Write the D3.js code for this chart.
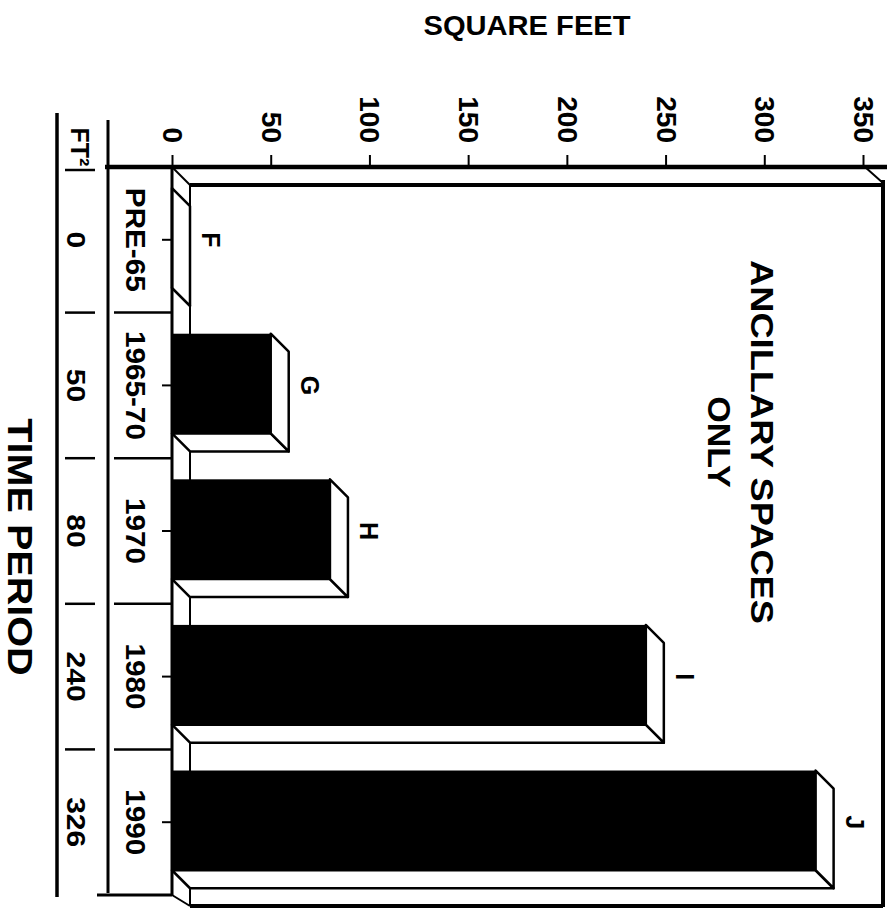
<!DOCTYPE html>
<html lang="en">
<head>
  <meta charset="UTF-8" />
  <title>Ancillary Spaces Only</title>
  <style>
    body {
      margin: 0;
      background: #fff;
    }
    svg {
      display: block;
      font-family: "Liberation Sans", Arial, sans-serif;
      font-weight: bold;
    }
  </style>
</head>
<body>

  <div id="chart"></div>

  <script src="https://d3js.org/d3.v7.min.js"></script>

  <script>
    // Data
    const categories = ["PRE-65", "1965-70", "1970", "1980", "1990"];
    const values = [0, 50, 80, 240, 326];
    const barLetters = ["F", "G", "H", "I", "J"];
    const valueTicks = [0, 50, 100, 150, 200, 250, 300, 350];

    const W = 896, H = 914;
    const depth = 18;  // 3D offset of the bars

    const svg = d3.select("#chart")
      .append("svg")
      .attr("width", W)
      .attr("height", H);

    const x = d3.scaleLinear()
      .domain([0, 350])
      .range([172, 863]);

    const y = d3.scaleBand()
      .domain(categories)
      .range([167, 895]);

    const bw = y.bandwidth();
    const data = categories.map((c, i) => ({ cat: c, value: values[i], letter: barLetters[i] }));

    // Title on top
    svg.append("text")
      .attr("transform", "translate(527,35) scale(1.04,1)")
      .attr("text-anchor", "middle")
      .style("font-size", "28px")
      .text("SQUARE FEET");

    // Back wall / floor of the 3D box
    const top0 = y.range()[0], bot0 = y.range()[1];
    const xBack = x(350) + 20;
    const frame = svg.append("g").attr("stroke", "#000").attr("fill", "none");
    frame.append("line").attr("x1", x(0) + depth).attr("x2", xBack)
      .attr("y1", top0 + depth).attr("y2", top0 + depth).attr("stroke-width", 4);
    frame.append("line").attr("x1", x(0) + depth).attr("x2", xBack)
      .attr("y1", bot0 + 11).attr("y2", bot0 + 11).attr("stroke-width", 4);
    frame.append("line").attr("x1", xBack).attr("x2", xBack)
      .attr("y1", top0 + 13).attr("y2", bot0 + 12).attr("stroke-width", 4);
    frame.append("line").attr("x1", x(0) + depth).attr("x2", x(0) + depth)
      .attr("y1", top0 + depth).attr("y2", bot0 + 11).attr("stroke-width", 2);
    frame.append("line").attr("x1", x(0)).attr("x2", x(0) + depth)
      .attr("y1", top0).attr("y2", top0 + depth).attr("stroke-width", 2);
    frame.append("line").attr("x1", x(0)).attr("x2", x(0) + depth)
      .attr("y1", bot0).attr("y2", bot0 + 11).attr("stroke-width", 2);
    frame.append("line").attr("x1", x(350) + 2).attr("x2", xBack)
      .attr("y1", top0).attr("y2", top0 + 16).attr("stroke-width", 2);

    // Bars: front face, end face and bottom face
    const bars = svg.append("g").selectAll("g")
      .data(data)
      .enter()
      .append("g");

    const y0 = d => y(d.cat) + bw * 0.145;
    const y1 = d => y(d.cat) + bw * 0.83;

    bars.append("polygon")
      .attr("points", d => [
        [x(0), y1(d)], [x(0) + depth, y1(d) + depth],
        [x(d.value) + depth, y1(d) + depth], [x(d.value), y1(d)]
      ].join(" "))
      .attr("fill", "#fff")
      .attr("stroke", "#000")
      .attr("stroke-width", 2.5)
      .attr("stroke-linejoin", "round");

    bars.append("polygon")
      .attr("points", d => [
        [x(d.value), y0(d)], [x(d.value) + depth, y0(d) + depth],
        [x(d.value) + depth, y1(d) + depth], [x(d.value), y1(d)]
      ].join(" "))
      .attr("fill", "#fff")
      .attr("stroke", "#000")
      .attr("stroke-width", 2.5)
      .attr("stroke-linejoin", "round");

    bars.append("rect")
      .attr("x", x(0))
      .attr("y", y0)
      .attr("width", d => x(d.value) - x(0))
      .attr("height", d => y1(d) - y0(d))
      .attr("fill", "#000");

    // Letters at the end of each bar
    bars.append("text")
      .attr("transform", d => `translate(${x(d.value) + depth + 21},${y(d.cat) + bw / 2}) rotate(90)`)
      .attr("text-anchor", "middle")
      .attr("dominant-baseline", "central")
      .style("font-size", "25px")
      .text(d => d.letter);

    // Zero line (front edge of the floor)
    svg.append("line")
      .attr("x1", x(0)).attr("x2", x(0))
      .attr("y1", top0).attr("y2", bot0)
      .attr("stroke", "#000").attr("stroke-width", 3);

    // Value axis on top
    const xAxis = svg.append("g")
      .attr("transform", `translate(0,${top0})`)
      .call(d3.axisTop(x).tickValues(valueTicks).tickSize(12).tickFormat(d3.format("d")));

    xAxis.select(".domain").remove();
    xAxis.selectAll(".tick line").attr("stroke-width", 2);
    xAxis.selectAll(".tick text")
      .attr("x", null).attr("y", null).attr("dy", null)
      .attr("transform", "translate(0,-24) rotate(90)")
      .attr("text-anchor", "end")
      .attr("dominant-baseline", "central")
      .style("font-size", "28px")
      .style("font-family", null);
    xAxis.attr("font-size", null).attr("font-family", null);

    svg.append("line")
      .attr("x1", 105).attr("x2", 887)
      .attr("y1", top0).attr("y2", top0)
      .attr("stroke", "#000").attr("stroke-width", 4.5);

    // Category axis
    const yAxis = svg.append("g")
      .attr("transform", `translate(${x(0)},0)`)
      .call(d3.axisLeft(y).tickSize(10));

    yAxis.select(".domain").remove();
    yAxis.attr("font-size", null).attr("font-family", null);
    yAxis.selectAll(".tick line").attr("stroke-width", 2);
    yAxis.selectAll(".tick text")
      .attr("x", null).attr("dy", null)
      .attr("transform", "translate(-36,0) rotate(90) scale(1.1,1)")
      .attr("text-anchor", "middle")
      .attr("dominant-baseline", "central")
      .style("font-size", "27px");

    // Band separators
    const bounds = categories.slice(1).map(c => y(c));
    svg.append("g").selectAll("line")
      .data(bounds)
      .enter()
      .append("line")
      .attr("x1", 114).attr("x2", x(0))
      .attr("y1", d => d).attr("y2", d => d)
      .attr("stroke", "#000").attr("stroke-width", 2.5);

    svg.append("line")
      .attr("x1", 97).attr("x2", x(0))
      .attr("y1", bot0).attr("y2", bot0)
      .attr("stroke", "#000").attr("stroke-width", 3);

    // FT² column
    svg.append("text")
      .attr("transform", `translate(80,${top0 - 20}) rotate(90)`)
      .attr("text-anchor", "middle")
      .attr("dominant-baseline", "central")
      .style("font-size", "25px")
      .text("FT²");

    svg.append("g").selectAll("line")
      .data([top0 + 3].concat(bounds))
      .enter()
      .append("line")
      .attr("x1", 65).attr("x2", 95)
      .attr("y1", d => d).attr("y2", d => d)
      .attr("stroke", "#000").attr("stroke-width", 2.5);

    svg.append("g").selectAll("text")
      .data(data)
      .enter()
      .append("text")
      .attr("transform", d => `translate(76,${y(d.cat) + bw / 2}) rotate(90) scale(1.2,1)`)
      .attr("text-anchor", "middle")
      .attr("dominant-baseline", "central")
      .style("font-size", "25px")
      .text(d => d.value);

    // Column rules
    svg.append("line")
      .attr("x1", 57).attr("x2", 57).attr("y1", 113).attr("y2", 897)
      .attr("stroke", "#000").attr("stroke-width", 3.5);
    svg.append("line")
      .attr("x1", 108).attr("x2", 108).attr("y1", 120).attr("y2", 893)
      .attr("stroke", "#000").attr("stroke-width", 3);

    // Category axis title
    svg.append("text")
      .attr("transform", "translate(20,547) rotate(90) scale(1.1,1)")
      .attr("text-anchor", "middle")
      .attr("dominant-baseline", "central")
      .style("font-size", "36px")
      .text("TIME PERIOD");

    // Chart note
    svg.append("text")
      .attr("transform", "translate(762,442) rotate(90) scale(1.17,1)")
      .attr("text-anchor", "middle")
      .attr("dominant-baseline", "central")
      .style("font-size", "31px")
      .text("ANCILLARY SPACES");
    svg.append("text")
      .attr("transform", "translate(718,442) rotate(90) scale(1.1,1)")
      .attr("text-anchor", "middle")
      .attr("dominant-baseline", "central")
      .style("font-size", "31px")
      .text("ONLY");
  </script>
</body>
</html>
